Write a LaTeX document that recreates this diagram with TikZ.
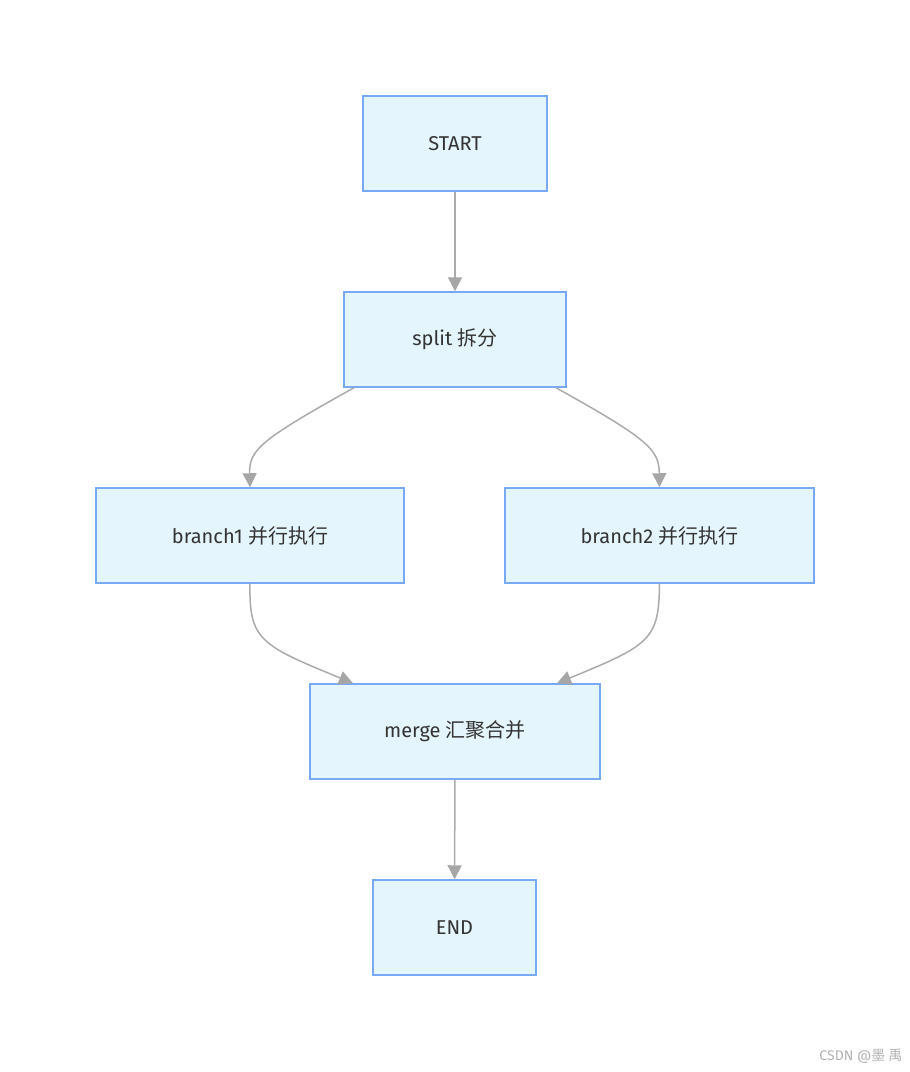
\documentclass[tikz,border=0pt]{standalone}
\usepackage{fontspec}
\setmainfont{Fira Sans}
\newfontfamily\cjk{Noto Sans CJK SC}
\usetikzlibrary{arrows.meta}
\definecolor{boxfill}{HTML}{E4F5FD}
\definecolor{boxline}{HTML}{78A9F5}
\definecolor{linkgray}{HTML}{ABABAB}
\tikzset{
  stage/.style={draw=boxline,fill=boxfill,line width=1.5pt,inner sep=0pt,
    font=\fontsize{20}{24}\selectfont,text=black!80},
  link/.style={draw=linkgray,line width=1.5pt,
    -{Triangle[length=14pt,width=14pt,fill=black!35,color=black!35]}}
}
\begin{document}
\begin{tikzpicture}[x=1pt,y=-1pt]
  \useasboundingbox (0,0) rectangle (910,1072);

  \node[stage,minimum width=184pt,minimum height=95pt] (start)  at (455,143.5) {START};
  \node[stage,minimum width=222pt,minimum height=95pt] (split)  at (455,339.5) {split {\cjk 拆分}};
  \node[stage,minimum width=308pt,minimum height=95pt] (b1)     at (250,535.5) {branch1 {\cjk 并行执行}};
  \node[stage,minimum width=309pt,minimum height=95pt] (b2)     at (659.5,535.5) {branch2 {\cjk 并行执行}};
  \node[stage,minimum width=290pt,minimum height=95pt] (merge)  at (455,731.5) {merge {\cjk 汇聚合并}};
  \node[stage,minimum width=163pt,minimum height=95pt] (end)    at (454.5,927.5) {END};

  \draw[link] (start) -- (split);
  \draw[link] ([xshift=-101pt]split.south) .. controls (260,440) and (249,450) .. (b1.north);
  \draw[link] ([xshift=101pt]split.south) .. controls (650,440) and (659,450) .. (b2.north);
  \draw[link] (b1.south) .. controls (249,640) and (260,645) .. ([xshift=-102pt]merge.north);
  \draw[link] (b2.south) .. controls (659,640) and (650,645) .. ([xshift=102pt]merge.north);
  \draw[link] (merge) -- (end);

  \node[anchor=east,text=black!30,font=\fontsize{14}{16}\selectfont] (mark) at (906,1056) {CSDN @{\cjk 墨 禹}};
\end{tikzpicture}
\end{document}
